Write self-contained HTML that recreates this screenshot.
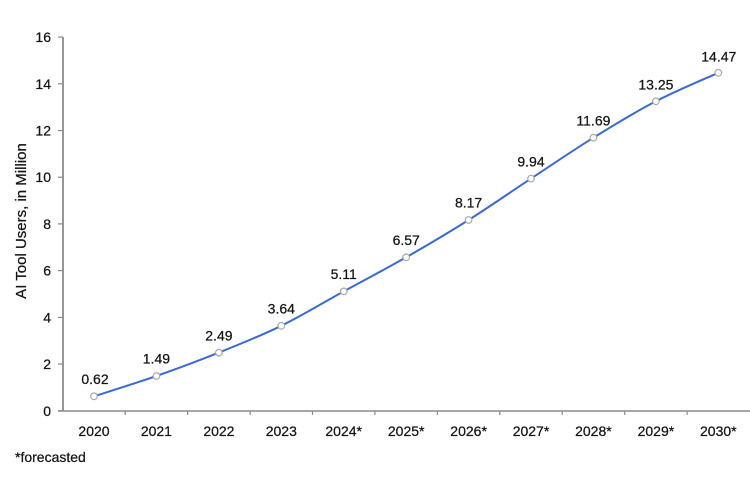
<!DOCTYPE html>
<html>
<head>
<meta charset="utf-8">
<style>
  html, body { margin: 0; padding: 0; background: #ffffff; }
  svg { display: block; }
  text { font-family: "Liberation Sans", Arial, sans-serif; fill: #141414; stroke: #141414; stroke-width: 0.25; }
</style>
</head>
<body>
<svg width="750" height="488" viewBox="0 0 750 488" xmlns="http://www.w3.org/2000/svg">
  <rect width="750" height="488" fill="#ffffff"/>

  <!-- Y axis -->
  <line x1="63" y1="37" x2="63" y2="411" stroke="#8a8a8a" stroke-width="1.8"/>
  <!-- X axis -->
  <line x1="58" y1="411" x2="750" y2="411" stroke="#8a8a8a" stroke-width="1.6"/>

  <!-- Y ticks -->
  <g stroke="#8a8a8a" stroke-width="1.2">
    <line x1="58" y1="410.8" x2="63" y2="410.8"/>
    <line x1="58" y1="364.1" x2="63" y2="364.1"/>
    <line x1="58" y1="317.4" x2="63" y2="317.4"/>
    <line x1="58" y1="270.6" x2="63" y2="270.6"/>
    <line x1="58" y1="223.9" x2="63" y2="223.9"/>
    <line x1="58" y1="177.2" x2="63" y2="177.2"/>
    <line x1="58" y1="130.6" x2="63" y2="130.6"/>
    <line x1="58" y1="83.8" x2="63" y2="83.8"/>
    <line x1="58" y1="37.1" x2="63" y2="37.1"/>
  </g>
  <!-- Y tick labels -->
  <g font-size="14" text-anchor="end">
    <text x="51" y="415.8">0</text>
    <text x="51" y="369.1">2</text>
    <text x="51" y="322.4">4</text>
    <text x="51" y="275.6">6</text>
    <text x="51" y="228.9">8</text>
    <text x="51" y="182.2">10</text>
    <text x="51" y="135.6">12</text>
    <text x="51" y="88.8">14</text>
    <text x="51" y="42.1">16</text>
  </g>

  <!-- X ticks -->
  <g stroke="#8a8a8a" stroke-width="1.2">
    <line x1="125.2" y1="411" x2="125.2" y2="415"/>
    <line x1="187.6" y1="411" x2="187.6" y2="415"/>
    <line x1="250.1" y1="411" x2="250.1" y2="415"/>
    <line x1="312.5" y1="411" x2="312.5" y2="415"/>
    <line x1="374.9" y1="411" x2="374.9" y2="415"/>
    <line x1="437.4" y1="411" x2="437.4" y2="415"/>
    <line x1="499.8" y1="411" x2="499.8" y2="415"/>
    <line x1="562.2" y1="411" x2="562.2" y2="415"/>
    <line x1="624.7" y1="411" x2="624.7" y2="415"/>
    <line x1="687.1" y1="411" x2="687.1" y2="415"/>
  </g>

  <!-- X tick labels -->
  <g font-size="14" text-anchor="middle">
    <text x="94" y="436">2020</text>
    <text x="156.4" y="436">2021</text>
    <text x="218.9" y="436">2022</text>
    <text x="281.3" y="436">2023</text>
    <text x="343.7" y="436">2024*</text>
    <text x="406.2" y="436">2025*</text>
    <text x="468.6" y="436">2026*</text>
    <text x="531" y="436">2027*</text>
    <text x="593.4" y="436">2028*</text>
    <text x="655.9" y="436">2029*</text>
    <text x="718.3" y="436">2030*</text>
  </g>

  <!-- Y axis title -->
  <text font-size="15" text-anchor="middle" transform="translate(26,221) rotate(-90)">AI Tool Users, in Million</text>

  <!-- Footnote -->
  <text x="15" y="462" font-size="14">*forecasted</text>

  <!-- Series line -->
  <path fill="none" stroke="#3a6bd0" stroke-width="2"
    d="M94,396.3
       C104.4,392.9 135.6,383.3 156.43,376.0
       C177.24,368.72 198.05,360.97 218.86,352.6
       C239.67,344.23 260.48,336.0 281.29,325.8
       C302.1,315.6 322.91,302.82 343.72,291.4
       C364.53,279.98 385.34,269.2 406.15,257.3
       C426.96,245.4 447.77,233.12 468.58,220.0
       C489.39,206.88 510.2,192.32 531.01,178.6
       C551.82,164.88 572.63,150.58 593.44,137.7
       C614.25,124.82 635.06,112.12 655.87,101.3
       C676.68,90.48 707.9,77.55 718.3,72.8"/>

  <!-- Markers -->
  <g fill="#ffffff" stroke="#a8a8a8" stroke-width="1.2">
    <circle cx="94" cy="396.3" r="3.3"/>
    <circle cx="156.43" cy="376.0" r="3.3"/>
    <circle cx="218.86" cy="352.6" r="3.3"/>
    <circle cx="281.29" cy="325.8" r="3.3"/>
    <circle cx="343.72" cy="291.4" r="3.3"/>
    <circle cx="406.15" cy="257.3" r="3.3"/>
    <circle cx="468.58" cy="220.0" r="3.3"/>
    <circle cx="531.01" cy="178.6" r="3.3"/>
    <circle cx="593.44" cy="137.7" r="3.3"/>
    <circle cx="655.87" cy="101.3" r="3.3"/>
    <circle cx="718.3" cy="72.8" r="3.3"/>
  </g>

  <!-- Data labels -->
  <g font-size="14" text-anchor="middle">
    <text x="95" y="384">0.62</text>
    <text x="156.4" y="363.5">1.49</text>
    <text x="218.9" y="340.3">2.49</text>
    <text x="281.3" y="313.5">3.64</text>
    <text x="343.7" y="279">5.11</text>
    <text x="406.2" y="245">6.57</text>
    <text x="468.6" y="207.7">8.17</text>
    <text x="531" y="166.3">9.94</text>
    <text x="593.4" y="125.4">11.69</text>
    <text x="655.9" y="89.5">13.25</text>
    <text x="718.8" y="61.5">14.47</text>
  </g>
</svg>
</body>
</html>
